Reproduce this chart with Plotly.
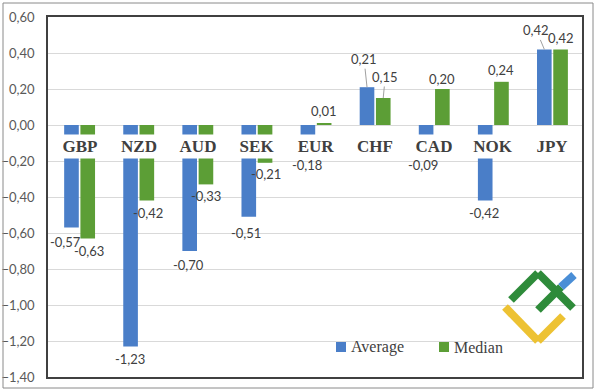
import plotly.graph_objects as go

categories = ["GBP", "NZD", "AUD", "SEK", "EUR", "CHF", "CAD", "NOK", "JPY"]
average = [-0.57, -1.23, -0.70, -0.51, -0.18, 0.21, -0.09, -0.42, 0.42]
median = [-0.63, -0.42, -0.33, -0.21, 0.01, 0.15, 0.20, 0.24, 0.42]
y_ticks = [0.6, 0.4, 0.2, 0.0, -0.2, -0.4, -0.6, -0.8, -1.0, -1.2, -1.4]
series_names = ["Average", "Median"]

BLUE = "#4A7EC8"
GREEN = "#5C9E36"
TXT = "#404040"

# label offsets (px) relative to bar end: (dx, dy downwards), leader line flag
avg_off = [(-6, 14, False), (-1, 13, False), (-1, 14, False), (-3, 16, False), (-1, 8, False),
           (-3, -28, True), (-3, 24, False), (-1, 12, False), (-8, -19, True)]
med_off = [(1, 13, False), (1, 12, False), (0, 12, False), (1, 11, False), (0, -12, False),
           (2, -21, True), (0, -10, False), (0, -12, False), (0, -11, False)]

fig = go.Figure()
fig.add_trace(go.Bar(x=categories, y=average, name=series_names[0], marker_color=BLUE, marker_line_width=0))
fig.add_trace(go.Bar(x=categories, y=median, name=series_names[1], marker_color=GREEN, marker_line_width=0))

def fmt(v):
    return f"{v:.2f}".replace(".", ",")

BAR_SHIFT = 8.1
annotations = []
for series, offs, sh in ((average, avg_off, -BAR_SHIFT), (median, med_off, BAR_SHIFT)):
    for cat, v, (dx, dy, lead) in zip(categories, series, offs):
        if lead:
            annotations.append(dict(x=cat, y=v, xref="x", yref="y", text=fmt(v), xshift=sh,
                                    showarrow=True, arrowhead=0, arrowwidth=1, arrowcolor="#a0a0a0",
                                    ax=dx, ay=dy, standoff=0,
                                    font=dict(family="Lato", size=13, color=TXT)))
        else:
            annotations.append(dict(x=cat, y=v, xref="x", yref="y", text=fmt(v),
                                    xshift=sh + dx, yshift=-dy, showarrow=False,
                                    xanchor="center", yanchor="middle",
                                    font=dict(family="Lato", size=13, color=TXT)))

for cat in categories:
    annotations.append(dict(x=cat, y=-0.1194, xref="x", yref="y", text=cat, showarrow=False,
                            bgcolor="white", width=46, height=21, xanchor="center", yanchor="middle",
                            font=dict(family="Liberation Serif", size=17, color=TXT, weight=700)))

# plot area in pixels
L, T, W, H = 48, 17, 534, 360
def px(x, y):
    return (x - L) / W, (T + H - y) / H

shapes = []
def stroke(pts, color):
    for (x0, y0), (x1, y1) in zip(pts[:-1], pts[1:]):
        a0, b0 = px(x0, y0)
        a1, b1 = px(x1, y1)
        shapes.append(dict(type="line", xref="paper", yref="paper", x0=a0, y0=b0, x1=a1, y1=b1,
                           line=dict(color=color, width=8), layer="above"))

# logo watermark
stroke([(505, 307), (538, 341), (563, 316)], "#EDC233")
stroke([(511, 300), (538, 273), (573, 308)], "#2E8B3A")
stroke([(538, 310), (561, 287)], "#2E8B3A")
stroke([(561, 287), (574, 275)], "#4A8ED6")

# outer frame
fx0, fy0 = px(3, 3)
fx1, fy1 = px(593, 388)
shapes.append(dict(type="rect", xref="paper", yref="paper", x0=fx0, y0=fy1, x1=fx1, y1=fy0,
                   line=dict(color="#8a8a8a", width=1), fillcolor="rgba(0,0,0,0)", layer="above"))

# manual legend (swatch + label)
for name, color, sx in zip(series_names, [BLUE, GREEN], [336, 439]):
    a0, b0 = px(sx, 342)
    a1, b1 = px(sx + 10, 352)
    shapes.append(dict(type="rect", xref="paper", yref="paper", x0=a0, y0=b1, x1=a1, y1=b0,
                       fillcolor=color, line=dict(width=0), layer="above"))
    tx, ty = px(sx + 13, 347)
    annotations.append(dict(x=tx, y=ty, xref="paper", yref="paper", text=name, showarrow=False,
                            xanchor="left", yanchor="middle",
                            font=dict(family="Liberation Serif", size=16, color=TXT)))

fig.update_layout(
    width=596, height=390,
    margin=dict(l=L, r=596 - L - W, t=T, b=390 - T - H, autoexpand=False),
    paper_bgcolor="white", plot_bgcolor="white",
    separators=",.",
    barmode="group", bargap=0.45, bargroupgap=0.1,
    showlegend=False,
    annotations=annotations,
    shapes=shapes,
    xaxis=dict(showticklabels=False, showgrid=False, zeroline=False, showline=True, mirror=True,
               linecolor="#404040", linewidth=1.5, ticks="", automargin=False),
    yaxis=dict(range=[-1.4, 0.6], tickvals=y_ticks, tickformat=".2f", showgrid=True,
               gridcolor="#d9d9d9", gridwidth=1, zeroline=False, showline=True, mirror=True,
               linecolor="#404040", linewidth=1.5, ticks="", ticklabelstandoff=9, automargin=False,
               tickfont=dict(family="Lato", size=13, color="#595959")),
)

fig.write_html("out.html", config={"displayModeBar": False},
               post_script="document.body.style.margin='0px';document.body.style.overflow='hidden';")
